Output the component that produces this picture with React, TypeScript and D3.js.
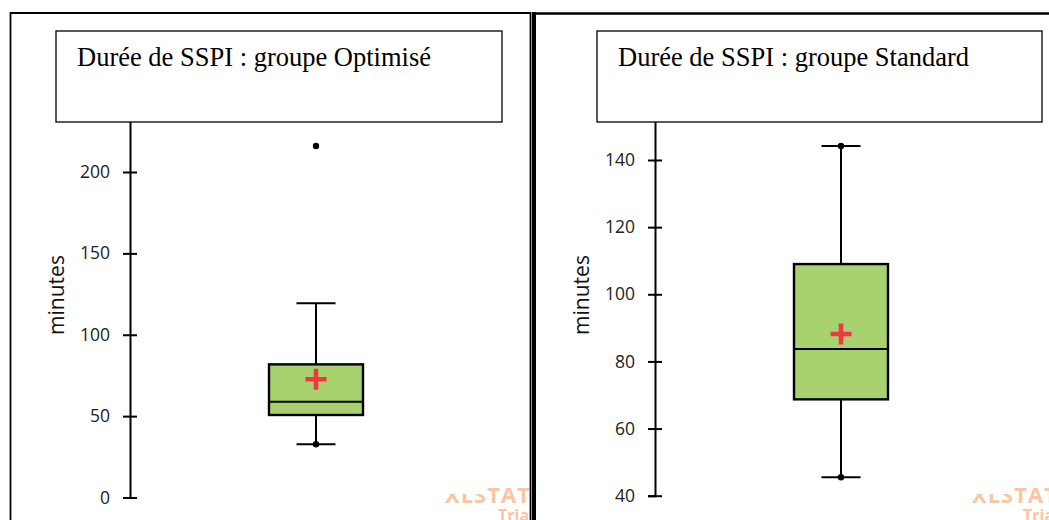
import React, { useEffect, useRef } from 'react';
import * as d3 from 'd3';

// Box plot summaries (minutes)
const groups = ['Optimisé', 'Standard'];
const titles = ['Durée de SSPI : groupe Optimisé', 'Durée de SSPI : groupe Standard'];
const q1Values = [50.7, 68.7];
const medianValues = [58.9, 83.7];
const q3Values = [81.8, 109.0];
const whiskerLow = [32.7, 45.5];
const whiskerHigh = [119.3, 144.2];
const meanValues = [72.6, 88.2];
const pointValues = [[32.7, 216], [45.5, 144.2]]; // min / max markers
const tickValues = [[0, 50, 100, 150, 200], [40, 60, 80, 100, 120, 140]];
const yDomains = [[0, 235], [40, 153.4]];

const W = 1049;
const H = 520;

const App: React.FC = () => {
  const svgRef = useRef<SVGSVGElement>(null);

  useEffect(() => {
    const svg = d3.select(svgRef.current);
    svg.selectAll('*').remove();

    svg.append('rect').attr('width', W).attr('height', H).attr('fill', '#fff');

    const panels = [
      { axisX: 130, bottom: 497.5, pxPerUnit: 1.6275, box: [56, 502], textX: 77 },
      { axisX: 655, bottom: 495.7, pxPerUnit: 3.357, box: [597, 1042], textX: 618 },
    ];

    // watermark (drawn first, under everything)
    const wm = [
      { x: 445, trialX: 498, clipRight: 529 },
      { x: 972, trialX: 1023, clipRight: 1049 },
    ];
    wm.forEach((w, i) => {
      const cid = `wmclip${i}`;
      svg.append('clipPath').attr('id', cid)
        .append('rect').attr('x', w.x - 10).attr('y', 470).attr('width', w.clipRight - w.x + 10).attr('height', 50);
      const g = svg.append('g').attr('clip-path', `url(#${cid})`);
      g.append('text')
        .attr('x', w.x).attr('y', 503)
        .attr('font-family', 'Open Sans, sans-serif').attr('font-weight', 700)
        .attr('font-size', 22).attr('letter-spacing', 1)
        .attr('fill', '#f9c6a4')
        .text('XLSTAT');
      g.append('text')
        .attr('x', w.trialX).attr('y', 521)
        .attr('font-family', 'Open Sans, sans-serif').attr('font-weight', 700)
        .attr('font-size', 16)
        .attr('fill', '#f9c6a4')
        .text('Trial');
      g.append('rect').attr('x', w.x - 4).attr('y', 480).attr('width', 46).attr('height', 14).attr('fill', '#fff');
    });

    panels.forEach((p, i) => {
      const [d0, d1] = yDomains[i];
      const y = d3.scaleLinear()
        .domain([d0, d1])
        .range([p.bottom, p.bottom - (d1 - d0) * p.pxPerUnit]);

      const g = svg.append('g');

      // Y axis
      const axis = g.append('g')
        .attr('transform', `translate(${p.axisX},0)`)
        .call(d3.axisLeft(y).tickValues(tickValues[i]).tickSizeOuter(0).tickSize(7).tickPadding(13));
      axis.select('.domain').attr('stroke', '#000').attr('stroke-width', 2);
      axis.selectAll('.tick line').attr('x1', -7).attr('x2', 7).attr('stroke', '#000').attr('stroke-width', 2);
      axis.selectAll('.tick text')
        .attr('font-family', 'Open Sans, sans-serif')
        .attr('font-size', 17.5)
        .attr('fill', '#222');

      // Y label
      g.append('text')
        .attr('transform', `translate(${p.axisX - 66},${295}) rotate(-90)`)
        .attr('text-anchor', 'middle')
        .attr('font-family', 'Open Sans, sans-serif')
        .attr('font-size', 21)
        .attr('fill', '#111')
        .text('minutes');

      // Box
      const cx = p.axisX + 186;
      const bw = 94;
      const capW = 39;

      g.append('line')
        .attr('x1', cx).attr('x2', cx)
        .attr('y1', y(whiskerHigh[i])).attr('y2', y(q3Values[i]))
        .attr('stroke', '#000').attr('stroke-width', 2);
      g.append('line')
        .attr('x1', cx).attr('x2', cx)
        .attr('y1', y(q1Values[i])).attr('y2', y(whiskerLow[i]))
        .attr('stroke', '#000').attr('stroke-width', 2);
      [whiskerHigh[i], whiskerLow[i]].forEach(v => {
        g.append('line')
          .attr('x1', cx - capW / 2).attr('x2', cx + capW / 2)
          .attr('y1', y(v)).attr('y2', y(v))
          .attr('stroke', '#000').attr('stroke-width', 2);
      });

      g.append('rect')
        .attr('x', cx - bw / 2).attr('width', bw)
        .attr('y', y(q3Values[i])).attr('height', y(q1Values[i]) - y(q3Values[i]))
        .attr('fill', '#a8d170').attr('stroke', '#000').attr('stroke-width', 2.4);
      g.append('line')
        .attr('x1', cx - bw / 2).attr('x2', cx + bw / 2)
        .attr('y1', y(medianValues[i])).attr('y2', y(medianValues[i]))
        .attr('stroke', '#000').attr('stroke-width', 2);

      // Mean cross
      const my = y(meanValues[i]);
      g.append('path')
        .attr('d', `M${cx - 10.5},${my}H${cx + 10.5}M${cx},${my - 10.5}V${my + 10.5}`)
        .attr('stroke', '#f0393e').attr('stroke-width', 4.5);

      // Min / max points
      g.selectAll('.pt')
        .data(pointValues[i])
        .enter()
        .append('circle')
        .attr('cx', cx).attr('cy', d => y(d)).attr('r', 3.2)
        .attr('fill', '#000');

      // Title box
      svg.append('rect')
        .attr('x', p.box[0]).attr('y', 31)
        .attr('width', p.box[1] - p.box[0]).attr('height', 91)
        .attr('fill', '#fff').attr('stroke', '#000').attr('stroke-width', 1.3);
      svg.append('text')
        .attr('x', p.textX).attr('y', 66)
        .attr('font-family', 'Liberation Serif, Times New Roman, serif')
        .attr('font-size', 26.5)
        .attr('fill', '#000')
        .text(titles[i]);
    });

    // Panel frames
    svg.append('path')
      .attr('d', 'M10.5,520V13H530.5V520')
      .attr('fill', 'none').attr('stroke', '#000').attr('stroke-width', 1.8);
    svg.append('line')
      .attr('x1', 534).attr('x2', 534).attr('y1', 12).attr('y2', 520)
      .attr('stroke', '#000').attr('stroke-width', 4);
    svg.append('line')
      .attr('x1', 533).attr('x2', W).attr('y1', 13.5).attr('y2', 13.5)
      .attr('stroke', '#000').attr('stroke-width', 2.5);
  }, []);

  return (
    <div style={{ position: 'absolute', left: 0, top: 0 }}>
      <svg ref={svgRef} width={W} height={H} style={{ display: 'block' }} aria-label={groups.join(' / ')}></svg>
    </div>
  );
};

export default App;
